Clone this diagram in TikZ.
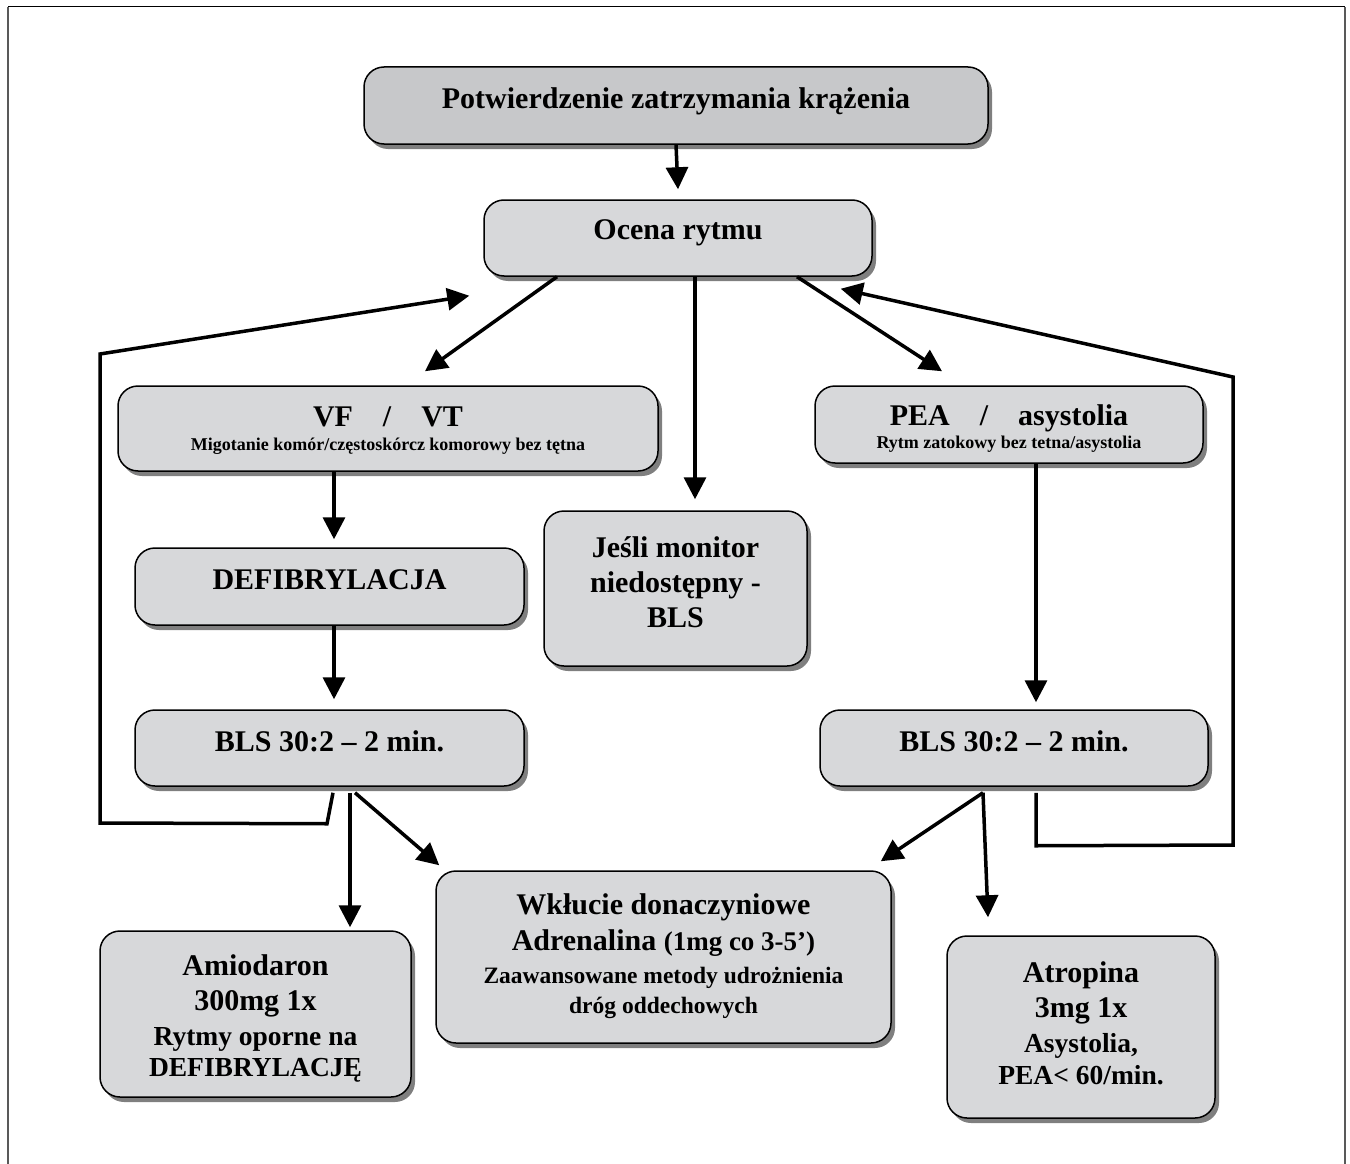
\documentclass[tikz,border=0pt]{standalone}
\usepackage{fontspec}
\setmainfont{Liberation Serif}
\usetikzlibrary{arrows.meta,shadows}

\definecolor{boxgrey}{RGB}{215,216,218}
\definecolor{topgrey}{RGB}{199,200,202}
\newcommand{\fs}[2]{\fontsize{#1}{#2}\selectfont}

\begin{document}
\begin{tikzpicture}[x=1pt,y=-1pt,
  box/.style={draw=black, line width=1.5pt, rounded corners=20pt, fill=boxgrey, inner sep=0pt,
    drop shadow={shadow xshift=4pt, shadow yshift=-5pt, opacity=0.5, fill=black}},
  txt/.style={align=center, inner sep=0pt, font=\bfseries\fs{30}{35}},
  arr/.style={line width=3.5pt, -{Triangle[length=22pt,width=22pt]}},
  backline/.style={line width=3.5pt, miter limit=4, -{Triangle[length=22pt,width=22pt]}}
]
\useasboundingbox (0,0) rectangle (1350,1164);
% frame
\draw [gray!70!black, line width=1.5pt] (8,1164) -- (8,7);
\draw [black, line width=1pt] (8,7) -- (1345,7);
\draw [gray!70!black, line width=1.5pt] (1345,7) -- (1345,1164);

% boxes
\node [box, fill=topgrey, minimum width=624pt, minimum height=77pt] (confirm) at (676,105.5) {};
\node [box, minimum width=388pt, minimum height=76pt] (rhythm) at (678,238) {};
\node [box, minimum width=540pt, minimum height=85pt] (vfvt) at (388,428.5) {};
\node [box, minimum width=388pt, minimum height=77pt] (pea) at (1009,424.5) {};
\node [box, minimum width=389pt, minimum height=77pt] (defib) at (329.5,586.5) {};
\node [box, minimum width=263pt, minimum height=155pt] (monitor) at (675.5,588.5) {};
\node [box, minimum width=389pt, minimum height=76pt] (blsleft) at (329.5,748) {};
\node [box, minimum width=388pt, minimum height=76pt] (blsright) at (1014,748) {};
\node [box, minimum width=455pt, minimum height=172pt] (access) at (663.5,957) {};
\node [box, minimum width=311pt, minimum height=166pt] (amio) at (255.5,1014) {};
\node [box, minimum width=268pt, minimum height=182pt] (atro) at (1081,1027) {};

% texts
\node [txt] (confirmtext) at ([yshift=4pt]confirm) {Potwierdzenie zatrzymania krążenia};
\node [txt] (rhythmtext) at ([yshift=5pt]rhythm) {Ocena rytmu};
\node [txt] (vfvttext) at ([yshift=-2pt]vfvt) {VF\quad/\quad VT\\[-11pt]{\fs{18}{20}Migotanie komór/częstoskórcz komorowy bez tętna}};
\node [txt] (peatext) at ([yshift=-4pt]pea) {PEA\quad/\quad asystolia\\[-12pt]{\fs{18}{20}Rytm zatokowy bez tetna/asystolia}};
\node [txt] (defibtext) at ([yshift=7pt]defib) {DEFIBRYLACJA};
\node [txt] (monitortext) at ([yshift=6pt]monitor) {Jeśli monitor\\niedostępny -\\BLS};
\node [txt] (blslefttext) at ([yshift=7pt]blsleft) {BLS 30:2 – 2 min.};
\node [txt] (blsrighttext) at ([yshift=7pt]blsright) {BLS 30:2 – 2 min.};
\node [txt, font=\bfseries\fs{30}{36}] (accesstext) at ([yshift=0.5pt]access) {Wkłucie donaczyniowe\\Adrenalina {\fs{27}{32}(1mg co 3-5’)}\\[-3pt]{\fs{23.5}{30}Zaawansowane metody udrożnienia}\\[-6pt]{\fs{23.5}{30}dróg oddechowych}};
\node [txt] (amiotext) at ([yshift=-4.5pt]amio) {Amiodaron\\300mg 1x\\{\fs{27.5}{34}Rytmy oporne na}\\[-4pt]{\fs{27.5}{32}DEFIBRYLACJĘ}};
\node [txt] (atrotext) at ([yshift=3.5pt]atro) {Atropina\\3mg 1x\\{\fs{27.5}{34}Asystolia,}\\[-3pt]{\fs{27.5}{32}PEA< 60/min.}};

% arrows
\draw [arr] (confirm.south) -- ([yshift=10pt]rhythm.north);
\draw [arr] ([xshift=-121pt]rhythm.south) -- ([xshift=37pt,yshift=14pt]vfvt.north);
\draw [arr] ([xshift=17pt]rhythm.south) -- ([xshift=19.5pt,yshift=11pt]monitor.north);
\draw [arr] ([xshift=119pt]rhythm.south) -- ([xshift=-67pt,yshift=14pt]pea.north);
\draw [arr] ([xshift=-54pt]vfvt.south) -- ([xshift=4.5pt,yshift=8pt]defib.north);
\draw [arr] ([xshift=4.5pt]defib.south) -- ([xshift=4.5pt,yshift=10pt]blsleft.north);
\draw [arr] ([xshift=27pt]pea.south) -- ([xshift=22pt,yshift=7pt]blsright.north);
\draw [arr] ([xshift=20.5pt,yshift=-6pt]blsleft.south) -- ([xshift=94.5pt,yshift=3pt]amio.north);
\draw [arr] ([xshift=25.5pt,yshift=-6pt]blsleft.south) -- ([xshift=4pt,yshift=5pt]access.north west);
\draw [arr] ([xshift=-31pt,yshift=-6pt]blsright.south) -- ([xshift=-11pt,yshift=9pt]access.north east);
\draw [arr] ([xshift=-31pt,yshift=-6pt]blsright.south) -- ([xshift=-93pt,yshift=18pt]atro.north);

% return loops
\draw [backline] ([xshift=3.5pt,yshift=-6pt]blsleft.south) -- ++(-6,31) -- (100,823) -- (100,354) -- ([xshift=-14pt,yshift=-19pt]rhythm.south west);
\draw [backline] ([xshift=22pt,yshift=-6pt]blsright.south) -- ++(0,53) -- (1233,845) -- (1233,377) -- ([xshift=-32pt,yshift=-12pt]rhythm.south east);
\end{tikzpicture}
\end{document}
